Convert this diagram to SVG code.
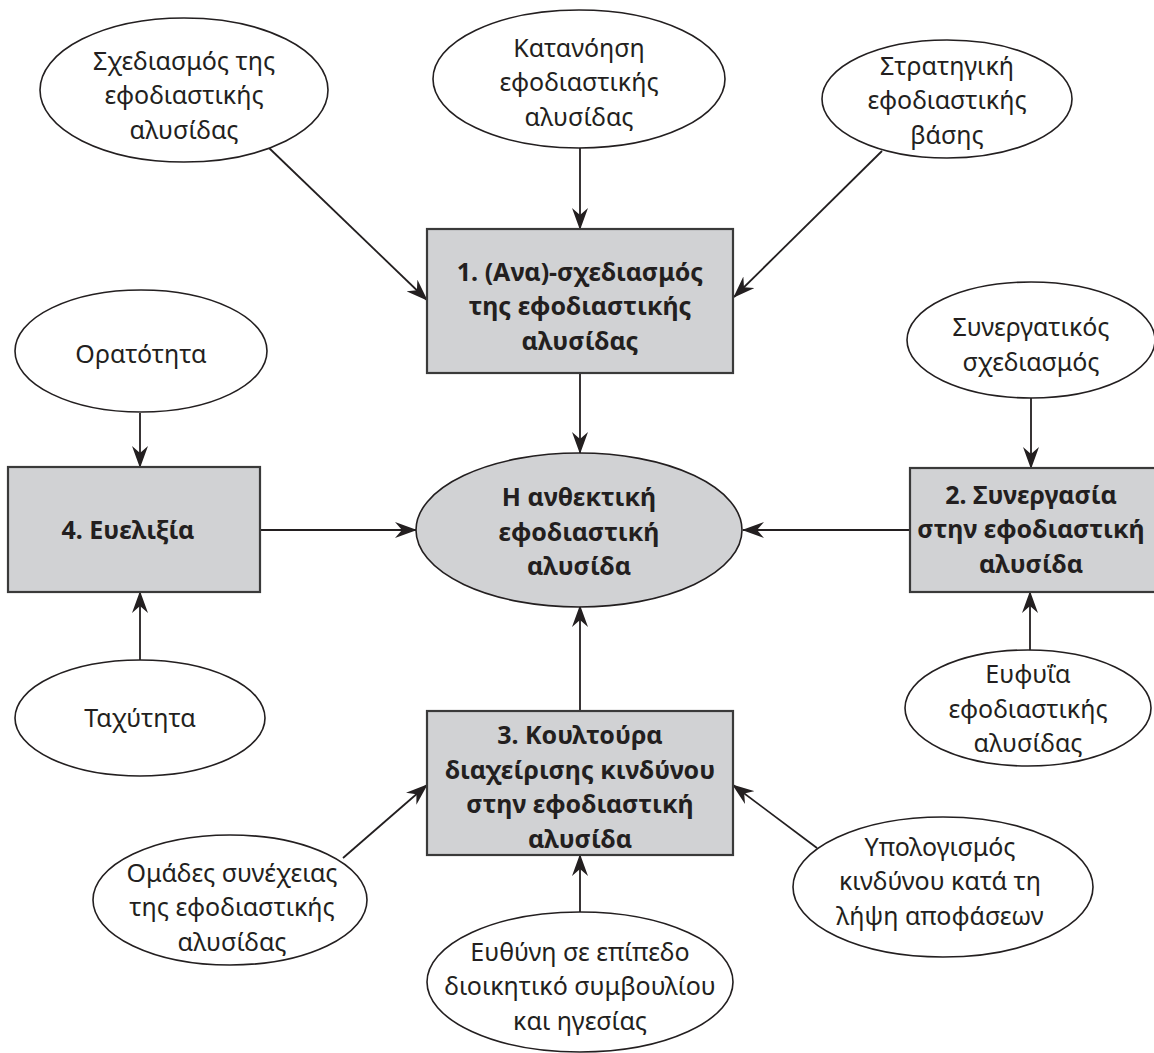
<svg xmlns="http://www.w3.org/2000/svg" width="1154" height="1053" viewBox="0 0 1154 1053">
<defs>
<marker id="ah" viewBox="0 0 22 16" markerWidth="22" markerHeight="16" refX="21" refY="8" orient="auto" markerUnits="userSpaceOnUse">
<path d="M0,0 L22,8 L0,16 L7,8 Z" fill="#231f20"/>
</marker>
<style>
.el{fill:#fff;stroke:#231f20;stroke-width:1.6}
.gel{fill:#d1d2d4;stroke:#231f20;stroke-width:1.6}
.box{fill:#d1d2d4;stroke:#3a3a3a;stroke-width:2.2}
.t{font-family:"Noto Sans","Open Sans","DejaVu Sans",sans-serif;font-size:25px;fill:#231f20;text-anchor:middle}
.b{font-family:"Noto Sans","Open Sans","DejaVu Sans",sans-serif;font-size:25px;font-weight:bold;fill:#231f20;text-anchor:middle}
.c{stroke:#231f20;stroke-width:1.8;fill:none;marker-end:url(#ah)}
</style>
</defs>
<rect width="1154" height="1053" fill="#fff"/>
<g id="connectors">
<line class="c" x1="268" y1="147" x2="427" y2="300"/>
<line class="c" x1="580" y1="148" x2="580" y2="229"/>
<line class="c" x1="882" y1="151" x2="734" y2="297"/>
<line class="c" x1="580" y1="373" x2="580" y2="453"/>
<line class="c" x1="140" y1="413" x2="140" y2="467"/>
<line class="c" x1="140" y1="660" x2="140" y2="592"/>
<line class="c" x1="260" y1="530" x2="416" y2="530"/>
<line class="c" x1="910" y1="530" x2="743" y2="530"/>
<line class="c" x1="1031" y1="398" x2="1031" y2="468"/>
<line class="c" x1="1030" y1="650" x2="1030" y2="592"/>
<line class="c" x1="580" y1="711" x2="580" y2="606"/>
<line class="c" x1="580" y1="912" x2="580" y2="855"/>
<line class="c" x1="343" y1="858" x2="427" y2="785"/>
<line class="c" x1="817" y1="848" x2="733" y2="785"/>
</g>
<g id="n-sxediasmos">
<ellipse class="el" cx="184" cy="90" rx="144" ry="72"/>
<text class="t" x="184" y="69.5">Σχεδιασμός της</text>
<text class="t" x="184" y="104">εφοδιαστικής</text>
<text class="t" x="184" y="138.5">αλυσίδας</text>
</g>
<g id="n-katanoisi">
<ellipse class="el" cx="579" cy="79" rx="146" ry="69"/>
<text class="t" x="579" y="56.5">Κατανόηση</text>
<text class="t" x="579" y="91">εφοδιαστικής</text>
<text class="t" x="579" y="125.5">αλυσίδας</text>
</g>
<g id="n-stratigiki">
<ellipse class="el" cx="947" cy="99" rx="125" ry="59"/>
<text class="t" x="947" y="74.5">Στρατηγική</text>
<text class="t" x="947" y="109">εφοδιαστικής</text>
<text class="t" x="947" y="143.5">βάσης</text>
</g>
<g id="n-box1">
<rect class="box" x="427" y="229" width="306" height="144"/>
<text class="b" x="580" y="280.5">1. (Ανα)-σχεδιασμός</text>
<text class="b" x="580" y="315">της εφοδιαστικής</text>
<text class="b" x="580" y="349.5">αλυσίδας</text>
</g>
<g id="n-center">
<ellipse class="gel" cx="579" cy="530" rx="163" ry="77"/>
<text class="b" x="579" y="506">Η ανθεκτική</text>
<text class="b" x="579" y="540.5">εφοδιαστική</text>
<text class="b" x="579" y="575">αλυσίδα</text>
</g>
<g id="n-oratotita">
<ellipse class="el" cx="141" cy="351" rx="126" ry="61"/>
<text class="t" x="141" y="363">Ορατότητα</text>
</g>
<g id="n-box4">
<rect class="box" x="8" y="467" width="252" height="125"/>
<text class="b" x="128" y="539">4. Ευελιξία</text>
</g>
<g id="n-taxytita">
<ellipse class="el" cx="140" cy="718" rx="125" ry="58"/>
<text class="t" x="140" y="727">Ταχύτητα</text>
</g>
<g id="n-synergatikos">
<ellipse class="el" cx="1031" cy="340" rx="124" ry="58"/>
<text class="t" x="1031" y="336">Συνεργατικός</text>
<text class="t" x="1031" y="370.5">σχεδιασμός</text>
</g>
<g id="n-box2">
<rect class="box" x="910" y="468" width="250" height="124"/>
<text class="b" x="1031" y="503.5">2. Συνεργασία</text>
<text class="b" x="1031" y="538">στην εφοδιαστική</text>
<text class="b" x="1031" y="572.5">αλυσίδα</text>
</g>
<g id="n-eyfyia">
<ellipse class="el" cx="1028" cy="708" rx="123" ry="58"/>
<text class="t" x="1028" y="683">Ευφυΐα</text>
<text class="t" x="1028" y="717.5">εφοδιαστικής</text>
<text class="t" x="1028" y="752">αλυσίδας</text>
</g>
<g id="n-box3">
<rect class="box" x="427" y="711" width="306" height="144"/>
<text class="b" x="580" y="744.25">3. Κουλτούρα</text>
<text class="b" x="580" y="778.75">διαχείρισης κινδύνου</text>
<text class="b" x="580" y="813.25">στην εφοδιαστική</text>
<text class="b" x="580" y="847.75">αλυσίδα</text>
</g>
<g id="n-omades">
<ellipse class="el" cx="230" cy="900" rx="137" ry="65"/>
<text class="t" x="232" y="881.5">Ομάδες συνέχειας</text>
<text class="t" x="232" y="916">της εφοδιαστικής</text>
<text class="t" x="232" y="950.5">αλυσίδας</text>
</g>
<g id="n-ypologismos">
<ellipse class="el" cx="943" cy="887" rx="150" ry="70"/>
<text class="t" x="940" y="855.5">Υπολογισμός</text>
<text class="t" x="940" y="890">κινδύνου κατά τη</text>
<text class="t" x="940" y="924.5">λήψη αποφάσεων</text>
</g>
<g id="n-eythyni">
<ellipse class="el" cx="580" cy="982" rx="153" ry="70"/>
<text class="t" x="580" y="960.5">Ευθύνη σε επίπεδο</text>
<text class="t" x="580" y="995">διοικητικό συμβουλίου</text>
<text class="t" x="580" y="1029.5">και ηγεσίας</text>
</g>
</svg>
